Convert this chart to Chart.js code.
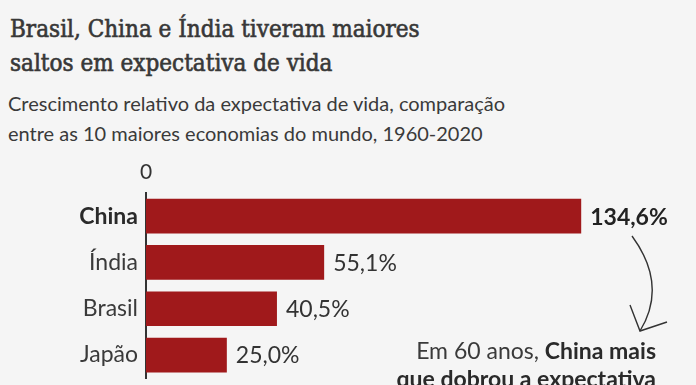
<!DOCTYPE html>
<html lang="pt">
<head>
<meta charset="utf-8">
<script src="https://cdn.jsdelivr.net/npm/chart.js@4.4.0/dist/chart.umd.min.js"></script>
<style>
  html, body { margin: 0; padding: 0; background: #f5f5f5; overflow: hidden; }
  body { width: 696px; height: 385px; position: relative; }
  .titulo { position: absolute; left: 10px; top: 12px; font-family: "DejaVu Serif Condensed", "DejaVu Serif", serif; font-size: 24px; line-height: 34px; color: #383838; -webkit-text-stroke: 0.6px #383838; white-space: nowrap; }
  .sub { position: absolute; left: 8px; top: 88px; font-family: Lato, sans-serif; font-size: 20px; line-height: 30px; color: #3a3a3a; white-space: nowrap; }
  .nota { position: absolute; right: 40px; top: 336px; font-family: Lato, sans-serif; font-size: 23px; line-height: 28px; color: #3a3a3a; text-align: right; white-space: nowrap; }
  .nota b { color: #2a2a2a; }
  #wrap { position: absolute; left: 0; top: 150px; width: 696px; height: 250px; }
  svg { position: absolute; left: 0; top: 0; }
</style>
</head>
<body>
<div class="titulo">Brasil, China e Índia tiveram maiores<br>saltos em expectativa de vida</div>
<div class="sub">Crescimento relativo da expectativa de vida, comparação<br>entre as 10 maiores economias do mundo, 1960-2020</div>
<div id="wrap"><canvas id="grafico"></canvas></div>
<svg width="696" height="385">
  <path d="M632,236 Q668,285 640,331" fill="none" stroke="#333" stroke-width="1.4"/>
  <polyline points="630,305 640,331 667,322" fill="none" stroke="#333" stroke-width="1.4"/>
</svg>
<div class="nota">Em 60 anos, <b>China mais</b><br><b>que dobrou a expectativa</b></div>
<script>
// dados (so 4 paises aparecem no recorte)
const paises = ['China', 'Índia', 'Brasil', 'Japão'];
const crescimento = [134.6, 55.1, 40.5, 25.0];
const destaque = 'China';

const corBarra = '#a0191b';
const fonte = 'Lato, sans-serif';

function fmt(v) {
    return v.toFixed(1).replace('.', ',') + '%';
}

// escreve o valor na ponta de cada barra
const rotulosPlugin = {
    id: 'rotulos',
    afterDatasetsDraw(chart) {
        const ctx = chart.ctx;
        const meta = chart.getDatasetMeta(0);
        ctx.save();
        ctx.textAlign = 'left';
        ctx.textBaseline = 'middle';
        meta.data.forEach(function (bar, i) {
            const forte = paises[i] === destaque;
            ctx.font = (forte ? 'bold ' : '') + '23px ' + fonte;
            ctx.fillStyle = forte ? '#222' : '#333';
            ctx.fillText(fmt(crescimento[i]), bar.x + 9, bar.y + 1);
        });
        ctx.restore();
    }
};

new Chart(document.getElementById('grafico'), {
    type: 'bar',
    data: {
        labels: paises,
        datasets: [{
            data: crescimento,
            backgroundColor: corBarra,
            borderWidth: 0,
            barPercentage: 0.75,
            categoryPercentage: 1
        }]
    },
    options: {
        indexAxis: 'y',
        responsive: true,
        maintainAspectRatio: false,
        animation: false,
        devicePixelRatio: 1,
        layout: { padding: { left: 0, right: 65, top: 0, bottom: 9 } },
        plugins: {
            legend: { display: false },
            tooltip: { enabled: false }
        },
        scales: {
            x: {
                position: 'top',
                min: 0,
                max: 150,
                afterBuildTicks: function (axis) { axis.ticks = [{ value: 0 }]; },
                afterFit: function (axis) { axis.height = 43; },
                grid: { display: false, drawTicks: false },
                border: { display: false },
                ticks: {
                    padding: 8,
                    color: '#333',
                    font: { family: fonte, size: 21 }
                }
            },
            y: {
                afterFit: function (axis) { axis.width = 146; },
                grid: { display: false, drawTicks: false },
                border: { display: true, color: '#333', width: 2 },
                ticks: {
                    padding: 8,
                    color: function (c) { return c.index === 0 ? '#2a2a2a' : '#3a3a3a'; },
                    font: function (c) {
                        return { family: fonte, size: 23, weight: paises[c.index] === destaque ? 'bold' : 'normal' };
                    }
                }
            }
        }
    },
    plugins: [rotulosPlugin]
});
</script>
</body>
</html>
